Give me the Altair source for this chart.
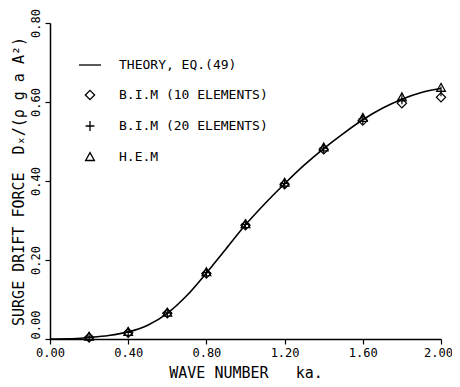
import altair as alt
import pandas as pd

# --- data ---
ka_theory = [0.0, 0.1, 0.2, 0.3, 0.4, 0.5, 0.6, 0.7, 0.8, 0.9, 1.0,
             1.1, 1.2, 1.3, 1.4, 1.5, 1.6, 1.7, 1.8, 1.9, 2.0]
force_theory = [0.0, 0.0005, 0.004, 0.009, 0.018, 0.035, 0.065, 0.110, 0.167, 0.228, 0.289,
                0.343, 0.393, 0.440, 0.482, 0.520, 0.555, 0.584, 0.607, 0.624, 0.634]

ka_points = [0.2, 0.4, 0.6, 0.8, 1.0, 1.2, 1.4, 1.6, 1.8, 2.0]
bim10 = [0.004, 0.016, 0.065, 0.166, 0.288, 0.392, 0.480, 0.553, 0.597, 0.612]
bim20 = [0.005, 0.017, 0.066, 0.168, 0.290, 0.394, 0.483, 0.557, 0.607, 0.627]
hem = [0.006, 0.018, 0.067, 0.169, 0.291, 0.396, 0.485, 0.560, 0.612, 0.636]

series_names = ["THEORY, EQ.(49)", "B.I.M (10 ELEMENTS)", "B.I.M (20 ELEMENTS)", "H.E.M"]
series_shapes = [
    "M-1,0H1",
    "M0,-0.42L0.42,0L0,0.42L-0.42,0Z",
    "M0,-0.45V0.45M-0.4,0H0.4",
    "M0,-0.4L0.4,0.32L-0.4,0.32Z",
]

x_ticks = [0.0, 0.2, 0.4, 0.6, 0.8, 1.0, 1.2, 1.4, 1.6, 1.8, 2.0]
y_ticks = [0.0, 0.1, 0.2, 0.3, 0.4, 0.5, 0.6, 0.7, 0.8]

FONT = "DejaVu Sans Mono"
NB = "\u00a0"

theory_df = pd.DataFrame({"ka": ka_theory, "force": force_theory})
pts_df = pd.concat([
    pd.DataFrame({"ka": ka_points, "force": bim10, "method": series_names[1]}),
    pd.DataFrame({"ka": ka_points, "force": bim20, "method": series_names[2]}),
    pd.DataFrame({"ka": ka_points, "force": hem, "method": series_names[3]}),
])

x_enc = alt.X(
    "ka:Q",
    scale=alt.Scale(domain=[0, 2.0], nice=False, zero=False),
    axis=alt.Axis(
        title="WAVE NUMBER" + NB * 3 + "ka.",
        values=x_ticks,
        labelExpr="round(datum.value*10) % 4 == 0 ? format(datum.value, '.2f') : ''",
        grid=False,
        tickSize=5,
        labelPadding=3,
        labelFlush=False,
        labelOffset={"condition": {"test": "datum.value == 2", "value": -3}, "value": 0},
        titlePadding=7,
    ),
)
y_enc = alt.Y(
    "force:Q",
    scale=alt.Scale(domain=[0, 0.8], nice=False),
    axis=alt.Axis(
        title="SURGE DRIFT FORCE" + NB * 2 + "Dₓ/(ρ g a A²)",
        values=y_ticks,
        labelExpr="round(datum.value*10) % 2 == 0 ? format(datum.value, '.2f') : ''",
        grid=False,
        tickSize=5,
        labelPadding=3,
        labelFlush=False,
        labelAngle=270,
        labelAlign={"condition": {"test": "datum.value == 0", "value": "left"}, "value": "center"},
        labelBaseline="bottom",
        titlePadding=3,
    ),
)

line = alt.Chart(theory_df).mark_line(
    color="black", strokeWidth=1.6, interpolate="monotone"
).encode(x=x_enc, y=y_enc)

points = alt.Chart(pts_df).mark_point(
    filled=False, color="black", strokeWidth=1.2, size=484, opacity=1
).encode(
    x="ka:Q",
    y="force:Q",
    shape=alt.Shape(
        "method:N",
        scale=alt.Scale(domain=series_names, range=series_shapes),
        legend=alt.Legend(
            title=None,
            orient="none",
            legendX=28,
            legendY=30,
            symbolSize=484,
            symbolStrokeWidth=1.3,
            symbolStrokeColor="black",
            symbolFillColor="transparent",
            labelFont=FONT,
            labelFontSize=13,
            labelColor="black",
            labelOffset=17,
            rowPadding=11,
            padding=0,
        ),
    ),
)

chart = (line + points).properties(
    width=391,
    height=316,
    background="white",
    autosize=alt.AutoSizeParams(type="none"),
    padding={"left": 42, "top": 15, "right": 11, "bottom": 42},
).configure_view(strokeWidth=0).configure_axis(
    domainColor="black",
    domainWidth=1.5,
    tickColor="black",
    tickWidth=1.2,
    labelFont=FONT,
    labelFontSize=12,
    labelColor="black",
    titleFont=FONT,
    titleFontSize=15,
    titleFontWeight="normal",
    titleColor="black",
)

chart.save("out.html", embed_options={"renderer": "svg", "actions": False})
